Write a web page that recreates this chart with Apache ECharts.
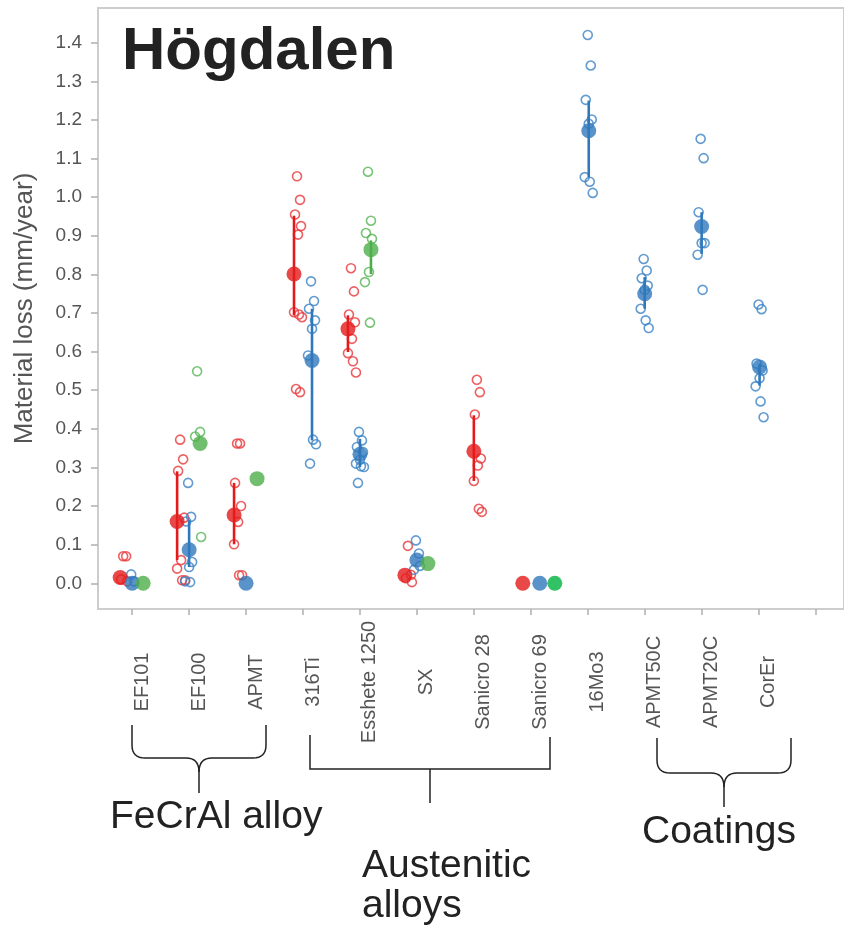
<!DOCTYPE html>
<html>
<head>
<meta charset="utf-8">
<script src="https://cdn.jsdelivr.net/npm/echarts@6/dist/echarts.min.js"></script>
<style>
html,body{margin:0;padding:0;background:#fff;}
#chart{width:844px;height:928px;}
</style>
</head>
<body>
<div id="chart"></div>
<script>
// ---------------- DATA ----------------
const categories = ['EF101','EF100','APMT','316Ti','Esshete 1250','SX','Sanicro 28','Sanicro 69','16Mo3','APMT50C','APMT20C','CorEr',''];
const yTickValues = [0,0.1,0.2,0.3,0.4,0.5,0.6,0.7,0.8,0.9,1.0,1.1,1.2,1.3,1.4];

// red group
const redMean = [0.015,0.16,0.177,0.801,0.659,0.021,0.342,0.0,null,null,null,null];
const redLo   = [null,0.06,0.101,0.694,0.599,null,0.265,null,null,null,null,null];
const redHi   = [null,0.29,0.26,0.952,0.694,null,0.435,null,null,null,null,null];
const redPoints = [
  [0.07,0.07,0.01,0.005],
  [0.372,0.321,0.291,0.17,0.06,0.038,0.008,0.008],
  [0.362,0.362,0.26,0.2,0.159,0.101,0.021,0.021],
  [1.054,0.993,0.955,0.925,0.903,0.702,0.696,0.689,0.503,0.495],
  [0.816,0.756,0.696,0.676,0.633,0.596,0.575,0.546],
  [0.097,0.022,0.013,0.003],
  [0.527,0.495,0.437,0.323,0.305,0.265,0.193,0.185],
  [],[],[],[],[]
];

// blue group
const blueMean = [0.0,0.087,0.0,0.577,0.334,0.06,null,0.0,1.172,0.75,0.924,0.56];
const blueLo   = [null,0.042,null,0.37,0.301,null,null,null,1.052,0.711,0.853,0.512];
const blueHi   = [null,0.163,null,0.711,0.374,null,null,null,1.25,0.793,0.961,0.569];
const bluePoints = [
  [0.023,0.005],
  [0.26,0.172,0.16,0.055,0.042,0.005,0.003],
  [],
  [0.782,0.731,0.711,0.681,0.659,0.59,0.372,0.36,0.31],
  [0.392,0.37,0.353,0.34,0.32,0.31,0.303,0.301,0.26],
  [0.111,0.077,0.035,0.045],
  [],
  [],
  [1.42,1.341,1.252,1.201,1.19,1.052,1.04,1.011],
  [0.84,0.81,0.79,0.771,0.76,0.711,0.681,0.661],
  [1.151,1.101,0.961,0.881,0.881,0.851,0.76],
  [0.722,0.71,0.569,0.551,0.531,0.51,0.471,0.43]
];

// green group
const greenMean = [0.0,0.362,0.271,null,0.864,0.051,null,0.0,null,null,null,null];
const greenLo   = [null,null,null,null,0.801,null,null,null,null,null,null,null];
const greenHi   = [null,null,null,null,0.888,null,null,null,null,null,null,null];
const greenPoints = [
  [],
  [0.549,0.392,0.38,0.12],
  [],
  [],
  [1.066,0.939,0.907,0.892,0.806,0.78,0.675],
  [],[],[],[],[],[],[]
];

// ---------------- LAYOUT / STYLE ----------------
const COLORS = {red:'#e31a1c', blue:'#2f78bb', green:'#4daf4a'};
const OPEN_COLORS = {red:'#e8383b', blue:'#3b82c4', green:'#55b455'};
const GROUP_DX = {red:-12, blue:0, green:11};
const DX_OVERRIDE = {
  red:   {3:-9, 6:0, 7:-8},
  blue:  {3:9, 7:9, 8:1, 11:1},
  green: {7:24}
};
const ITEM_COLOR_OVERRIDE = {green:{7:'#00b140'}};
const OPEN_SHIFT = {red:3, blue:-1, green:-3};
const JITTER = [0,3,-2,4,1,-3,2,5,-1,3];

function dxOf(g,i){ const o = DX_OVERRIDE[g]; return (o && o[i] !== undefined) ? o[i] : GROUP_DX[g]; }

const groups = [
  {g:'red', mean:redMean, lo:redLo, hi:redHi, pts:redPoints},
  {g:'blue', mean:blueMean, lo:blueLo, hi:blueHi, pts:bluePoints},
  {g:'green', mean:greenMean, lo:greenLo, hi:greenHi, pts:greenPoints}
];

const series = [];
// open circles
groups.forEach(G => {
  const data = [];
  G.pts.forEach((arr,i) => {
    arr.forEach((v,j) => {
      data.push({value:[i,v], symbolOffset:[dxOf(G.g,i) + OPEN_SHIFT[G.g] + JITTER[j % JITTER.length], 0]});
    });
  });
  series.push({
    type:'scatter', data, symbol:'circle', symbolSize:9, z:2,
    itemStyle:{color:'rgba(255,255,255,0)', borderColor:OPEN_COLORS[G.g], borderWidth:1.6},
    silent:true
  });
});
// error bars
groups.forEach(G => {
  const data = [];
  G.lo.forEach((lo,i) => {
    if (lo !== null && G.hi[i] !== null) data.push([i, lo, G.hi[i], dxOf(G.g,i)]);
  });
  const col = COLORS[G.g];
  series.push({
    type:'custom', data, z:3, silent:true,
    encode:{x:0, y:[1,2]},
    renderItem:(params, api) => {
      const a = api.coord([api.value(0), api.value(1)]);
      const b = api.coord([api.value(0), api.value(2)]);
      const dx = api.value(3);
      return {type:'line', shape:{x1:a[0]+dx, y1:a[1], x2:b[0]+dx, y2:b[1]}, style:{stroke:col, lineWidth:2.6}};
    }
  });
});
// means
groups.forEach(G => {
  const data = [];
  G.mean.forEach((v,i) => {
    if (v === null) return;
    const item = {value:[i,v], symbolOffset:[dxOf(G.g,i),0]};
    const oc = ITEM_COLOR_OVERRIDE[G.g];
    if (oc && oc[i]) item.itemStyle = {color:oc[i]};
    data.push(item);
  });
  series.push({
    type:'scatter', data, symbol:'circle', symbolSize:15, z:4, silent:true,
    itemStyle:{color:COLORS[G.g]}
  });
});

const TXT = '#222';
const FONT = 'Liberation Sans, Arial, sans-serif';

// bracket outlines (annotation, not data): segments of points / quadratic curves
function quad(p0, c, p1, n){ const out=[]; for(let k=1;k<=n;k++){const t=k/n; out.push([(1-t)*(1-t)*p0[0]+2*(1-t)*t*c[0]+t*t*p1[0], (1-t)*(1-t)*p0[1]+2*(1-t)*t*c[1]+t*t*p1[1]]);} return out; }
function brace(xl, xr, yTop, yBar, yTip){
  const xm = (xl+xr)/2, r = 13;
  const left = [[xl,yTop],[xl,yBar-r]].concat(quad([xl,yBar-r],[xl,yBar],[xl+r,yBar],8))
    .concat([[xm-r,yBar]]).concat(quad([xm-r,yBar],[xm,yBar],[xm,yBar+14],8)).concat([[xm,yTip]]);
  const right = [[xr,yTop],[xr,yBar-r]].concat(quad([xr,yBar-r],[xr,yBar],[xr-r,yBar],8))
    .concat([[xm+r,yBar]]).concat(quad([xm+r,yBar],[xm,yBar],[xm,yBar+14],8));
  return [left, right];
}
const bracketLines = [];
brace(132,266,725,758,793).forEach(p => bracketLines.push(p));
brace(657,791,738,773,807).forEach(p => bracketLines.push(p));
bracketLines.push([[310,735],[310,769],[550,769],[550,737]]);
bracketLines.push([[430,769],[430,803]]);

const graphics = [
  {type:'text', left:122, top:22, z:10, style:{text:'Högdalen', fontSize:60, fontWeight:'bold', fill:TXT, fontFamily:FONT}},
  {type:'text', left:110, top:798, z:10, style:{text:'FeCrAl alloy', fontSize:39, fill:TXT, fontFamily:FONT}},
  {type:'text', left:642, top:813, z:10, style:{text:'Coatings', fontSize:39, fill:TXT, fontFamily:FONT}},
  {type:'text', left:362, top:846, z:10, style:{text:'Austenitic\nalloys', fontSize:39, lineHeight:40, fill:TXT, fontFamily:FONT}}
];
bracketLines.forEach(pts => graphics.push({type:'polyline', z:10, shape:{points:pts}, style:{fill:null, stroke:TXT, lineWidth:1.5}}));

const option = {
  backgroundColor:'#fff',
  animation:false,
  grid:[
    {left:103.7, width:744.3, top:8, bottom:319},
    {left:98, top:8, right:-20, bottom:319, show:true, borderColor:'#cdcdcd', borderWidth:2, backgroundColor:'rgba(0,0,0,0)'}
  ],
  xAxis:[
    {
      type:'category', data:categories, gridIndex:0, position:'bottom',
      axisLine:{show:false, onZero:false},
      axisTick:{show:true, alignWithLabel:true, length:6, lineStyle:{color:'#b0b0b0', width:1.5}},
      axisLabel:{rotate:90, interval:0, align:'center', verticalAlign:'top', margin:73,
                 fontSize:20, color:'#555', fontFamily:FONT},
      splitLine:{show:false}
    },
    {type:'value', gridIndex:1, show:false}
  ],
  yAxis:[
    {
      type:'value', gridIndex:0, min:-0.0666, max:1.4899, offset:5.7,
      axisLine:{show:false},
      axisTick:{show:true, length:7, customValues:yTickValues, lineStyle:{color:'#b0b0b0', width:1.5}},
      axisLabel:{customValues:yTickValues, margin:16, fontSize:19, color:'#555', fontFamily:FONT,
                 formatter:v => v.toFixed(1)},
      splitLine:{show:false},
      name:'Material loss (mm/year)', nameLocation:'middle', nameRotate:90, nameGap:73,
      nameTextStyle:{fontSize:26, color:'#555', fontFamily:FONT, verticalAlign:'middle'}
    },
    {type:'value', gridIndex:1, show:false}
  ],
  graphic:graphics,
  series
};

const chart = echarts.init(document.getElementById('chart'), null, {renderer:'canvas'});
chart.setOption(option);
</script>
</body>
</html>
